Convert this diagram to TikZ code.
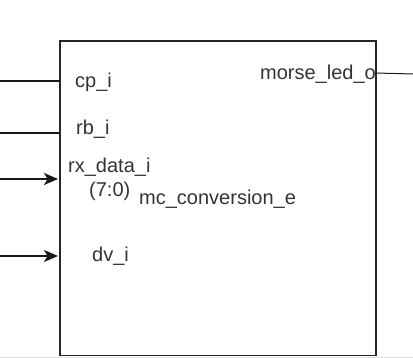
\documentclass[tikz,border=0pt]{standalone}
\usepackage{fontspec}
\setmainfont{Liberation Sans}
\usetikzlibrary{positioning, arrows.meta}

\tikzset{
  port/.style={anchor=base west, inner sep=0pt, text=black!80,
    font=\fontsize{20}{23}\selectfont},
  wire/.style={line width=1.4pt, draw=black!90},
  sig/.style={wire, -{Stealth[length=14pt, width=12pt, inset=3.5pt]}, shorten >=2pt}
}

\begin{document}
\begin{tikzpicture}[x=1pt, y=-1pt]
    \useasboundingbox (0,0) rectangle (413,358);

    % entity block
    \draw[line width=1.5pt, draw=black!85] (60,41) rectangle (376,355.5) ;
    \draw[line width=0.8pt, draw=black!12] (0,357.6) -- (413,357.6);

    % port labels
    \node[port] (cp)  at (75,88)   {cp\_i};
    \node[port] (rb)  at (76,135)  {rb\_i};
    \node[port] (rx)  at (68,173)  {rx\_data\_i};
    \node[port] (rxw) at (89,197)  {(7:0)};
    \node[port] (ent) at (139,205) {mc\_conversion\_e};
    \node[port] (dv)  at (92,262)  {dv\_i};
    \node[port, anchor=base east] (led) at (376,80) {morse\_led\_o};

    % wire ends
    \coordinate (cp in)  at (0,81);
    \coordinate (cp pin) at (60,81);
    \coordinate (rb in)  at (0,133);
    \coordinate (rb pin) at (60,133);
    \coordinate (rx in)  at (0,179);
    \coordinate (rx pin) at (60,179);
    \coordinate (dv in)  at (0,256);
    \coordinate (dv pin) at (60,256);
    \coordinate (led pin) at (376,73);
    \coordinate (led out) at (413,74);

    \draw[wire] (cp in) -- (cp pin);
    \draw[wire] (rb in) -- (rb pin);
    \draw[sig] (rx in) -- (rx pin);
    \draw[sig] (dv in) -- (dv pin);
    \draw[wire, line width=1pt] (led pin) -- (led out);
\end{tikzpicture}
\end{document}
